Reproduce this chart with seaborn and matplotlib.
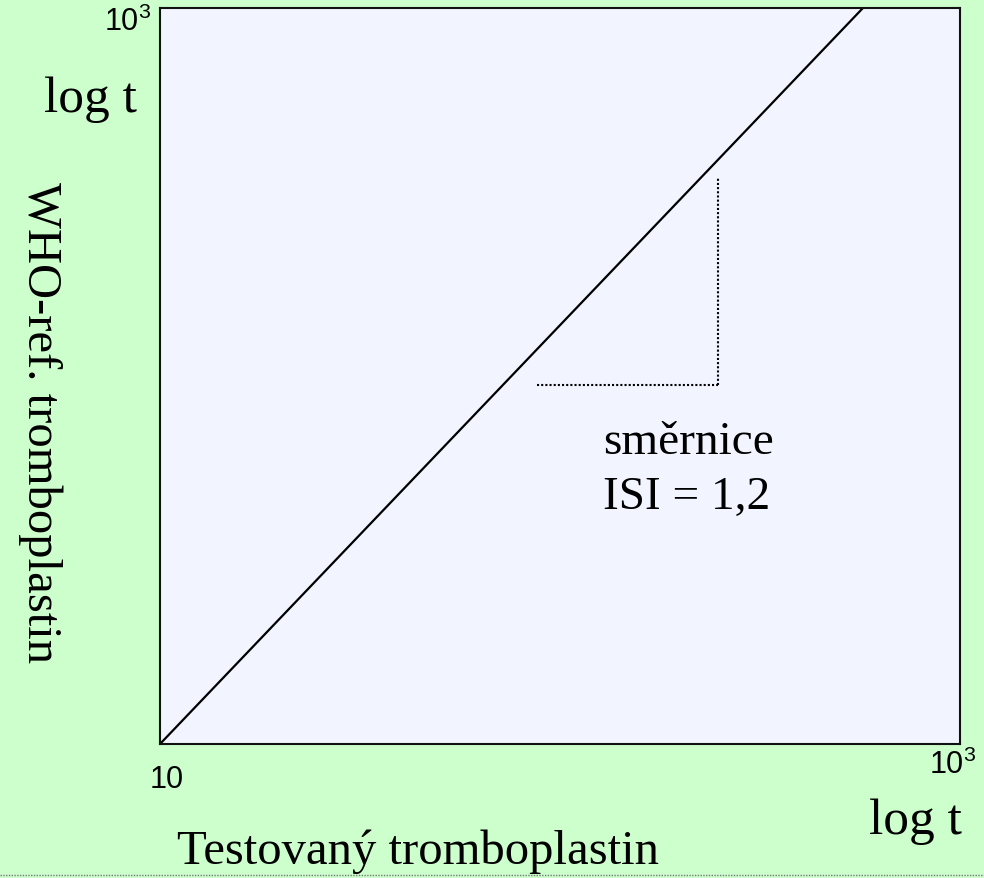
import matplotlib
matplotlib.use('Agg')
import matplotlib.pyplot as plt
import seaborn as sns
import pandas as pd
from matplotlib.lines import Line2D

# calibration line (log-log), slope ~ ISI
line_x = [10, 572]
line_y = [10, 1000]

# dotted slope triangle
horiz_x = [87.6, 248]
horiz_y = [94.5, 94.5]
vert_x = [248, 248]
vert_y = [94.5, 348]

df = pd.DataFrame({'x': line_x, 'y': line_y})

sns.set_style('white')
plt.rcParams['font.family'] = ['Liberation Serif', 'DejaVu Serif']
plt.rcParams['text.color'] = 'black'

fig = plt.figure(figsize=(9.84, 8.79), dpi=100, facecolor='#ccffcc')
ax = fig.add_axes([160 / 984, 1 - 745 / 879, 800 / 984, 736 / 879])
ax.set_facecolor('#f2f5ff')

sns.lineplot(data=df, x='x', y='y', color='black', linewidth=1.6, ax=ax)
ax.plot(horiz_x, horiz_y, color='black', linestyle=(0, (1, 1)), linewidth=1.5)
ax.plot(vert_x, vert_y, color='black', linestyle=(0, (1, 1)), linewidth=1.5)

ax.set_xscale('log')
ax.set_yscale('log')
ax.set_xlim(10, 1000)
ax.set_ylim(10, 1000)
ax.set_xticks([])
ax.set_yticks([])
ax.minorticks_off()
ax.set_xlabel('')
ax.set_ylabel('')
for s in ax.spines.values():
    s.set_color('#111111')
    s.set_linewidth(1.5)

tick_font = dict(family='Liberation Sans', fontsize=22, color='black')
fig.text(167 / 984, 1 - 780 / 879, '10', ha='center', va='center', **tick_font)
fig.text(976 / 984, 1 - 765 / 879, r'$\mathregular{10^3}$', ha='right', va='center', **tick_font)
fig.text(151 / 984, 1 - 22 / 879, r'$\mathregular{10^3}$', ha='right', va='center', **tick_font)

big = dict(fontsize=37, color='black')
fig.text(90 / 984, 1 - 100 / 879, 'log t', ha='center', va='center', **big)
fig.text(915 / 984, 1 - 822 / 879, 'log t', ha='center', va='center', **big)
fig.text(418 / 984, 1 - 852 / 879, 'Testovaný tromboplastin', ha='center', va='center', fontsize=35, color='black')
fig.text(40 / 984, 1 - 423 / 879, 'WHO-ref. tromboplastin', ha='center', va='center',
         rotation=270, fontsize=35, color='black')

ax.text(603 / 984, 1 - 443 / 879, 'směrnice', transform=fig.transFigure,
        ha='left', va='center', fontsize=34, color='black')
ax.text(603 / 984, 1 - 498 / 879, 'ISI = 1,2', transform=fig.transFigure,
        ha='left', va='center', fontsize=34, color='black')

fig.add_artist(Line2D([0, 1], [1 - 876 / 879, 1 - 876 / 879], transform=fig.transFigure,
                      color='#777777', linestyle=(0, (1, 1)), linewidth=1))

fig.savefig('out.png', dpi=100, facecolor=fig.get_facecolor())
